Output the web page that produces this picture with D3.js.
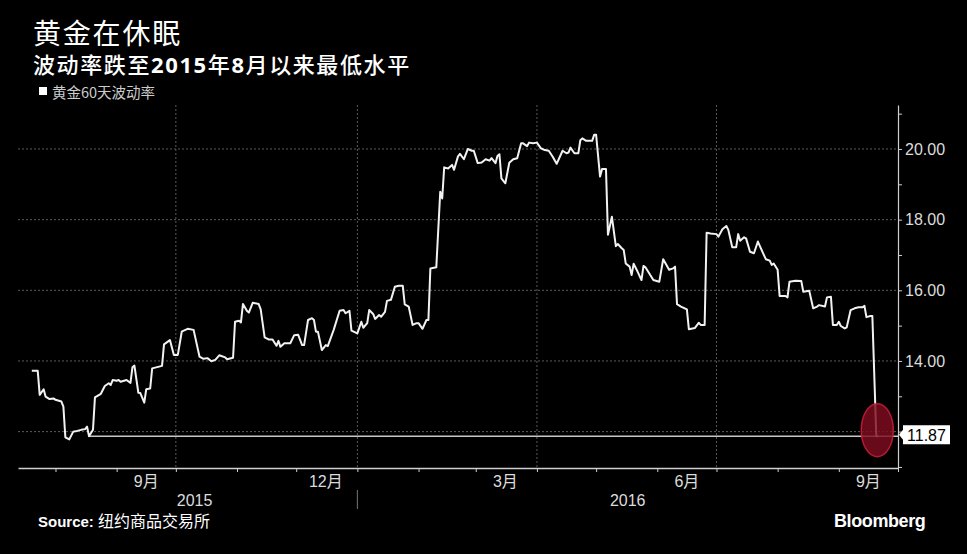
<!DOCTYPE html>
<html><head><meta charset="utf-8">
<script src="https://cdn.jsdelivr.net/npm/d3@7"></script>
<style>html,body{margin:0;padding:0;background:#000;} svg{display:block}</style>
</head><body>
<svg id="chart" width="967" height="554"></svg>
<script>
const titleText = "黄金在休眠";
const subtitleParts = [["波动率跌至", false], ["2015", true], ["年", false], ["8", true], ["月以来最低水平", false]];
const legendLabel = "黄金60天波动率";
const sourceLabel = "Source:";
const sourceText = "纽约商品交易所";

const dates = [
"2015-07-20","2015-07-23","2015-07-24","2015-07-26","2015-07-27","2015-07-29","2015-07-31","2015-08-01","2015-08-04","2015-08-05",
"2015-08-06","2015-08-08","2015-08-10","2015-08-12","2015-08-14","2015-08-16","2015-08-17","2015-08-18","2015-08-20","2015-08-21",
"2015-08-24","2015-08-26","2015-08-28","2015-08-29","2015-08-30","2015-09-01","2015-09-02","2015-09-03","2015-09-06","2015-09-08",
"2015-09-09","2015-09-10","2015-09-12","2015-09-13","2015-09-15","2015-09-16","2015-09-18","2015-09-19","2015-09-24","2015-09-25",
"2015-09-28","2015-09-30","2015-10-02","2015-10-04","2015-10-05","2015-10-07","2015-10-10","2015-10-13","2015-10-15","2015-10-17",
"2015-10-19","2015-10-21","2015-10-23","2015-10-26","2015-10-27","2015-10-30","2015-10-31","2015-11-02","2015-11-03","2015-11-04",
"2015-11-06","2015-11-07","2015-11-09","2015-11-12","2015-11-13","2015-11-15","2015-11-17","2015-11-19","2015-11-21","2015-11-22",
"2015-11-23","2015-11-25","2015-11-28","2015-11-30","2015-12-02","2015-12-04","2015-12-05","2015-12-07","2015-12-09","2015-12-10",
"2015-12-11","2015-12-12","2015-12-14","2015-12-16","2015-12-17","2015-12-20","2015-12-23","2015-12-25","2015-12-26","2015-12-28",
"2015-12-29","2016-01-01","2016-01-03","2016-01-04","2016-01-06","2016-01-07","2016-01-09","2016-01-10","2016-01-12","2016-01-13",
"2016-01-15","2016-01-16","2016-01-18","2016-01-20","2016-01-22","2016-01-24","2016-01-25","2016-01-27","2016-01-29","2016-01-31",
"2016-02-01","2016-02-03","2016-02-05","2016-02-06","2016-02-07","2016-02-10","2016-02-12","2016-02-13","2016-02-14","2016-02-16",
"2016-02-18","2016-02-19","2016-02-21","2016-02-22","2016-02-24","2016-02-26","2016-02-28","2016-02-29","2016-03-02","2016-03-04",
"2016-03-06","2016-03-08","2016-03-09","2016-03-11","2016-03-12","2016-03-13","2016-03-14","2016-03-16","2016-03-18","2016-03-20",
"2016-03-22","2016-03-24","2016-03-25","2016-03-27","2016-03-28","2016-03-30","2016-04-01","2016-04-03","2016-04-05","2016-04-07",
"2016-04-09","2016-04-11","2016-04-14","2016-04-16","2016-04-17","2016-04-18","2016-04-20","2016-04-22","2016-04-23","2016-04-24",
"2016-04-26","2016-04-29","2016-04-30","2016-05-01","2016-05-03","2016-05-04","2016-05-06","2016-05-07","2016-05-09","2016-05-11",
"2016-05-12","2016-05-14","2016-05-15","2016-05-16","2016-05-18","2016-05-19","2016-05-20","2016-05-22","2016-05-24","2016-05-25",
"2016-05-26","2016-05-30","2016-06-02","2016-06-04","2016-06-07","2016-06-09","2016-06-10","2016-06-11","2016-06-13","2016-06-16",
"2016-06-17","2016-06-20","2016-06-22","2016-06-23","2016-06-25","2016-06-26","2016-06-28","2016-07-01","2016-07-02","2016-07-04",
"2016-07-06","2016-07-07","2016-07-09","2016-07-11","2016-07-12","2016-07-13","2016-07-15","2016-07-16","2016-07-18","2016-07-20",
"2016-07-22","2016-07-23","2016-07-26","2016-07-28","2016-07-29","2016-07-30","2016-08-01","2016-08-02","2016-08-05","2016-08-06",
"2016-08-07","2016-08-10","2016-08-13","2016-08-14","2016-08-17","2016-08-19","2016-08-21","2016-08-22","2016-08-25","2016-08-26",
"2016-08-28","2016-08-29","2016-08-31","2016-09-01","2016-09-02","2016-09-04","2016-09-05","2016-09-07","2016-09-09","2016-09-11",
"2016-09-13","2016-09-14","2016-09-15","2016-09-17","2016-09-18","2016-09-20","2016-09-21"
];
const values = [
13.72,13.72,13.04,13.20,12.99,12.92,12.94,12.90,12.85,12.71,
11.84,11.78,12.00,12.02,12.05,12.07,12.14,11.87,12.05,12.97,
13.07,13.29,13.37,13.32,13.46,13.44,13.46,13.41,13.46,13.38,
13.82,13.87,13.10,13.09,12.82,13.20,13.22,13.79,13.86,14.47,
14.59,14.17,14.17,14.83,14.86,14.91,14.88,14.12,14.06,14.08,
13.99,14.03,14.16,14.10,14.05,14.09,15.11,15.14,15.09,15.61,
15.42,15.37,15.65,15.61,15.46,14.67,14.61,14.61,14.43,14.57,
14.40,14.50,14.50,14.73,14.74,14.45,14.45,15.16,15.21,15.16,
14.83,14.83,14.31,14.45,14.42,14.88,15.42,15.44,15.35,15.42,
14.86,14.78,15.11,14.94,15.07,15.44,15.33,15.19,15.30,15.25,
15.39,15.70,15.73,16.10,16.13,16.13,15.60,15.54,15.02,15.07,
15.07,14.91,15.16,15.16,16.62,16.65,18.79,18.60,19.48,19.45,
19.55,19.41,19.79,19.86,19.71,20.00,19.95,19.95,19.60,19.62,
19.71,19.67,19.74,19.60,19.80,19.85,19.17,19.03,19.61,19.71,
19.74,20.16,20.16,20.08,20.18,20.16,20.18,20.02,19.97,19.95,
19.78,19.58,19.95,19.88,19.90,20.04,19.88,19.88,20.25,20.30,
20.23,20.23,20.40,20.40,19.22,19.43,19.43,17.57,18.08,17.25,
17.31,17.19,17.14,16.76,16.67,16.43,16.75,16.53,16.29,16.69,
16.65,16.29,16.24,16.88,16.58,16.62,16.67,15.61,15.54,15.46,
14.90,14.93,15.08,15.02,15.02,17.63,17.61,17.59,17.52,17.73,
17.82,17.71,17.22,17.22,17.59,17.40,17.50,17.47,17.09,17.05,
17.38,17.25,16.88,16.84,16.72,16.76,16.58,15.84,15.84,15.80,
16.24,16.27,16.26,15.96,15.99,15.49,15.54,15.58,15.54,15.80,
15.82,15.02,15.02,15.11,14.99,14.92,14.95,15.44,15.49,15.52,
15.52,15.56,15.24,15.27,15.27,11.87,11.87
];

const yMajorTicks = [12, 14, 16, 18, 20];
const yLabelledTicks = [14, 16, 18, 20];
const yMinorTicks = [11, 13, 15, 17, 19, 21];
const monthLabelDates = ["2015-09-16", "2015-12-16", "2016-03-16", "2016-06-16", "2016-09-16"];
const monthLabels = ["9月", "12月", "3月", "6月", "9月"];
const yearLabels = ["2015", "2016"];
const yearBoundary = "2016-01-01";
const xDomain = ["2015-07-13", "2016-10-01"];
const yDomain = [10.97, 21.245];
const lastValue = 11.87;
const refStartDate = "2015-08-18";

(function () {
const parse = d3.timeParse("%Y-%m-%d");
const data = dates.map((d, i) => ({ date: parse(d), value: values[i] }));

const svg = d3.select("#chart");
svg.append("rect").attr("width", 967).attr("height", 554).attr("fill", "#000");

const pL = 18, pR = 898, pT = 105, pB = 468;
const x = d3.scaleTime().domain(xDomain.map(parse)).range([pL, pR]);
const y = d3.scaleLinear().domain(yDomain).range([pB, pT]);

const cjk = "'Noto Sans CJK SC', 'Noto Sans', sans-serif";
const latin = "'Liberation Sans', 'Noto Sans CJK SC', sans-serif";

// Title & subtitle
svg.append("text").attr("x", 33).attr("y", 44).attr("fill", "#fff")
  .attr("font-family", cjk).attr("font-size", 28).attr("letter-spacing", 1.8).text(titleText);
const sub = svg.append("text").attr("x", 33).attr("y", 72.5).attr("fill", "#fff")
  .attr("font-family", cjk).attr("font-size", 22).attr("letter-spacing", 1.6);
subtitleParts.forEach(([t, b]) => {
  sub.append("tspan").attr("font-weight", b ? "bold" : 500).attr("font-family", b ? "'Noto Sans', sans-serif" : cjk).text(t);
});

// Legend
svg.append("rect").attr("x", 39).attr("y", 87).attr("width", 8).attr("height", 8).attr("fill", "#fff");
svg.append("text").attr("x", 52).attr("y", 98).attr("fill", "#ccc")
  .attr("font-family", cjk).attr("font-size", 14.5).text(legendLabel);

// Grid
const grid = svg.append("g");
grid.selectAll("line.h").data(yMajorTicks).join("line")
  .attr("x1", pL).attr("x2", pR).attr("y1", d => y(d)).attr("y2", d => y(d))
  .attr("stroke", "#5a5a5a").attr("stroke-width", 1).attr("stroke-dasharray", "2,2");
const quarterDates = d3.timeMonths(parse("2015-10-01"), parse("2016-08-01"), 3);
grid.selectAll("line.v").data(quarterDates).join("line")
  .attr("x1", d => x(d)).attr("x2", d => x(d)).attr("y1", pT).attr("y2", pB)
  .attr("stroke", "#5a5a5a").attr("stroke-width", 1).attr("stroke-dasharray", "2,2");

// Reference line at last value
svg.append("line")
  .attr("x1", x(parse(refStartDate))).attr("x2", pR)
  .attr("y1", y(lastValue)).attr("y2", y(lastValue))
  .attr("stroke", "#c8c8c8").attr("stroke-width", 1.5);

// Data line
const line = d3.line().x(d => x(d.date)).y(d => y(d.value));
svg.append("path").datum(data).attr("d", line)
  .attr("fill", "none").attr("stroke", "#f2f2f2").attr("stroke-width", 2)
  .attr("stroke-linejoin", "round");

// Highlight ellipse
const lastPt = data[data.length - 1];
svg.append("ellipse")
  .attr("cx", x(lastPt.date) - 1).attr("cy", y(lastValue) - 6)
  .attr("rx", 16).attr("ry", 26.5)
  .attr("fill", "rgba(128,12,32,0.82)").attr("stroke", "rgba(195,30,52,0.9)").attr("stroke-width", 1.5);

// Right axis (12.00 label is hidden behind the last-value flag in the reference)
const yAxis = d3.axisRight(y).tickValues(yMajorTicks)
  .tickFormat(d => yLabelledTicks.includes(d) ? d3.format(".2f")(d) : "")
  .tickSize(4).tickSizeOuter(0).tickPadding(3);
const gy = svg.append("g").attr("transform", `translate(${pR},0)`).call(yAxis);
gy.select(".domain").attr("stroke", "#cfcfcf").attr("stroke-width", 1.2);
gy.selectAll(".tick line").attr("stroke", "#cfcfcf");
gy.selectAll(".tick text").attr("fill", "#dcdcdc").attr("font-family", latin).attr("font-size", 16);
const yMinor = d3.axisRight(y).tickValues(yMinorTicks).tickFormat("").tickSize(4).tickSizeOuter(0);
const gym = svg.append("g").attr("transform", `translate(${pR},0)`).call(yMinor);
gym.select(".domain").remove();
gym.selectAll(".tick line").attr("stroke", "#cfcfcf");

// Bottom axis
const xAxis = d3.axisBottom(x).ticks(d3.timeMonth.every(1)).tickFormat("").tickSize(4).tickSizeOuter(0);
const gx = svg.append("g").attr("transform", `translate(0,${pB})`).call(xAxis);
gx.select(".domain").attr("stroke", "#cfcfcf").attr("stroke-width", 1.5);
gx.selectAll(".tick line").attr("stroke", "#cfcfcf");

svg.selectAll("text.month").data(monthLabels).join("text")
  .attr("x", (d, i) => x(parse(monthLabelDates[i])))
  .attr("y", 487).attr("text-anchor", "middle").attr("fill", "#dcdcdc")
  .attr("font-family", latin).attr("font-size", 16).text(d => d);

const yb = parse(yearBoundary);
const yearCenters = [(x(data[0].date) + x(yb)) / 2, (x(yb) + pR) / 2];
svg.selectAll("text.year").data(yearLabels).join("text")
  .attr("x", (d, i) => yearCenters[i]).attr("y", 506).attr("text-anchor", "middle")
  .attr("fill", "#dcdcdc").attr("font-family", latin).attr("font-size", 16).text(d => d);
svg.append("line").attr("x1", x(yb)).attr("x2", x(yb)).attr("y1", 490).attr("y2", 509)
  .attr("stroke", "#777").attr("stroke-width", 1);

// Last value label
const yc = y(lastValue) - 1.5;
const bx = 903, bw = 47, bh = 19;
svg.append("path")
  .attr("d", `M${pR + 1},${yc} L${bx},${yc - 5} L${bx},${yc - bh / 2} L${bx + bw},${yc - bh / 2} L${bx + bw},${yc + bh / 2} L${bx},${yc + bh / 2} L${bx},${yc + 5} Z`)
  .attr("fill", "#fff");
svg.append("text").attr("x", bx + bw / 2).attr("y", yc + 6).attr("text-anchor", "middle")
  .attr("fill", "#000").attr("font-family", latin).attr("font-size", 16).text(d3.format(".2f")(lastValue));

// Source
const src = svg.append("text").attr("x", 38).attr("y", 527).attr("fill", "#fff").attr("font-size", 15);
src.append("tspan").attr("font-family", latin).attr("font-weight", "bold").text(sourceLabel + " ");
src.append("tspan").attr("font-family", cjk).attr("font-size", 16).text(sourceText);

// Bloomberg wordmark
svg.append("text").attr("x", 834).attr("y", 527).attr("fill", "#fff")
  .attr("font-family", latin).attr("font-weight", "bold").attr("font-size", 18).attr("letter-spacing", -0.4).text("Bloomberg");
})();
</script>
</body></html>
